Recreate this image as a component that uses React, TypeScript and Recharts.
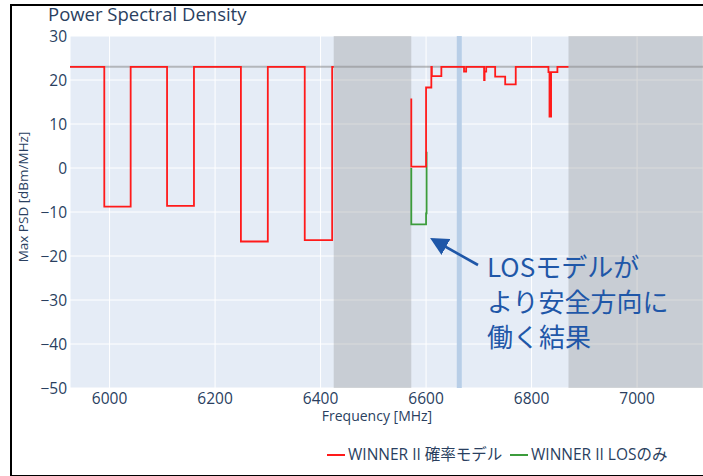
import { CartesianGrid, Line, LineChart, ReferenceArea, ReferenceLine, XAxis, YAxis } from "recharts";

// frequency ticks [MHz] and PSD ticks [dBm/MHz]
const xTicks = [6000, 6200, 6400, 6600, 6800, 7000];
const yTicks = [-50, -40, -30, -20, -10, 0, 10, 20, 30];

// WINNER II probabilistic model (step values, null = gap)
const probFreq = [
  5925, 5990, 6040, 6109, 6160, 6249, 6300, 6370, 6422, 6425, 6426,
  6572, 6572, 6600, 6610, 6611, 6629, 6672, 6676, 6710, 6711, 6714,
  6731, 6750, 6770, 6832, 6834, 6837, 6849, 6870,
];
const probPsd = [
  23, -8.8, 23, -8.6, 23, -16.7, 23, -16.4, 23, 23, null,
  15.8, 0.3, 18.3, 23, 20.9, 23, 21.9, 23, 20, 21.9, 23,
  20.75, 19, 23, 21.8, 11.7, 21.8, 23, 23,
];

// WINNER II LOS only (only where it differs)
const losFreq = [6572, 6572, 6600, 6601];
const losPsd = [0, -12.8, -10.3, 3.7];

// blocked bands and markers
const blockedBands = [
  [6425, 6572],
  [6870, 7125],
];
const limitPsd = 23;
const markerFreq = 6663;

const series = [
  { name: "WINNER II 確率モデル", color: "#ff1a1a" },
  { name: "WINNER II LOSのみ", color: "#3c9c3c" },
];

const noteLines = ["LOSモデルが", "より安全方向に", "働く結果"];

const probData = probFreq.map((f, i) => ({ f, v: probPsd[i] }));
const losData = losFreq.map((f, i) => ({ f, v: losPsd[i] }));

const font = "'Open Sans', 'Noto Sans CJK JP', sans-serif";
const ink = "#2a3f5f";
const note = "#1f57a8";
const minus = (v: number) => String(v).replace("-", "\u2212");

export default function App() {
  return (
    <div style={{ position: "absolute", left: 0, top: 0, width: 703, height: 476, background: "#fff", overflow: "hidden", fontFamily: font }}>
      <LineChart width={703} height={476} data={probData} margin={{ top: 36, right: 0, bottom: 58, left: 0 }}>
        <CartesianGrid stroke="#fff" fill="#e5ecf6" strokeWidth={1} />
        <XAxis
          type="number"
          dataKey="f"
          domain={[5925, 7125]}
          ticks={xTicks}
          allowDataOverflow
          tickLine={false}
          axisLine={false}
          tickSize={0}
          tickMargin={5}
          height={30}
          tick={{ fill: ink, fontSize: 15.5, fontFamily: font }}
        />
        <YAxis
          type="number"
          domain={[-50, 30]}
          ticks={yTicks}
          allowDataOverflow
          tickLine={false}
          axisLine={false}
          tickSize={0}
          tickMargin={3}
          width={70}
          tickFormatter={minus}
          tick={{ fill: ink, fontSize: 15.5, fontFamily: font }}
        />
        {blockedBands.map(([a, b]) => (
          <ReferenceArea key={a} x1={a} x2={b} y1={-50} y2={30} fill="#7f7f7f" fillOpacity={0.28} stroke="none" />
        ))}
        <ReferenceLine x={markerFreq} stroke="#b3cbe6" strokeWidth={5} strokeOpacity={0.9} />
        <ReferenceLine y={limitPsd} stroke="#8a8a8a" strokeOpacity={0.55} strokeWidth={2} />
        <Line
          data={losData}
          dataKey="v"
          type="stepAfter"
          stroke={series[1].color}
          strokeWidth={1.8}
          dot={false}
          activeDot={false}
          isAnimationActive={false}
        />
        <Line
          data={probData}
          dataKey="v"
          type="stepAfter"
          stroke={series[0].color}
          strokeWidth={1.8}
          dot={false}
          activeDot={false}
          isAnimationActive={false}
        />
      </LineChart>

      <svg width={703} height={476} style={{ position: "absolute", left: 0, top: 0, pointerEvents: "none" }}>
        <text x={48} y={21} fontSize={18.5} fill={ink} fontFamily={font}>
          Power Spectral Density
        </text>
        <text x={377} y={421} fontSize={14} fill={ink} fontFamily={font} textAnchor="middle">
          Frequency [MHz]
        </text>
        <text transform="translate(28,197) rotate(-90)" fontSize={13.5} fill={ink} fontFamily={font} textAnchor="middle">
          Max PSD [dBm/MHz]
        </text>
        {series.map((s, i) => {
          const x0 = i === 0 ? 327 : 510;
          return (
            <g key={s.name}>
              <line x1={x0} x2={x0 + 18} y1={455} y2={455} stroke={s.color} strokeWidth={2} />
              <text x={x0 + 21} y={460} fontSize={15.5} fill={ink} fontFamily={font}>
                {s.name}
              </text>
            </g>
          );
        })}
        <defs>
          <marker id="head" markerWidth="7" markerHeight="7" refX="5.5" refY="3.5" orient="auto" markerUnits="strokeWidth">
            <path d="M0,0 L7,3.5 L0,7 Z" fill={note} />
          </marker>
        </defs>
        <line x1={478} y1={265} x2={433.5} y2={240} stroke={note} strokeWidth={2.6} markerEnd="url(#head)" />
        {noteLines.map((t, i) => (
          <text key={t} x={487} y={277 + i * 35} fontSize={26} fill={note} fontFamily="'Noto Sans CJK JP', sans-serif">
            {t}
          </text>
        ))}
      </svg>
      <div style={{ position: "absolute", left: 10, top: 4, width: 760, height: 473, border: "2px solid #000", boxSizing: "border-box" }} />
    </div>
  );
}
